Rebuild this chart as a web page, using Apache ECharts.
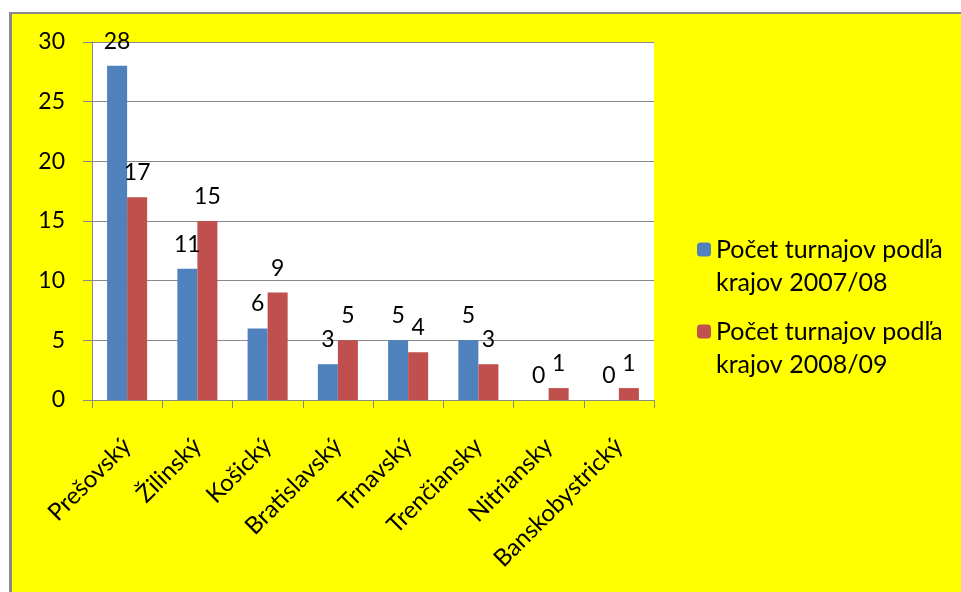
<!DOCTYPE html>
<html>
<head>
<meta charset="utf-8">
<script src="https://cdn.jsdelivr.net/npm/echarts@6/dist/echarts.min.js"></script>
<style>
html,body{margin:0;padding:0;background:#fff;}
#c{width:961px;height:592px;}
</style>
</head>
<body>
<div id="c"></div>
<script>
const categories = ['Prešovský','Žilinský','Košický','Bratislavský','Trnavský','Trenčiansky','Nitriansky','Banskobystrický'];
const seriesNames = ['Počet turnajov podľa\nkrajov 2007/08','Počet turnajov podľa\nkrajov 2008/09'];
const values2007 = [28, 11, 6, 3, 5, 5, 0, 0];
const values2008 = [17, 15, 9, 5, 4, 3, 1, 1];
const yTicks = {min: 0, max: 30, interval: 5};

const FONT = 'Lato';
const chart = echarts.init(document.getElementById('c'), null, {renderer: 'canvas'});
const labelCfg = {show: true, position: 'top', distance: 13, color: '#000', fontFamily: FONT, fontSize: 23};
const legendCommon = {
  orient: 'vertical', left: 697, padding: 0, itemWidth: 14, itemHeight: 14, itemGap: 0, selectedMode: false,
  formatter: function (name) { return '\n' + name; },
  textStyle: {fontFamily: FONT, fontSize: 25, color: '#000', lineHeight: 33}
};
chart.setOption({
  backgroundColor: '#ffffff',
  animation: false,
  textStyle: {fontFamily: FONT},
  graphic: [
    {type: 'rect', z: -10, silent: true, shape: {x: 9, y: 12, width: 960, height: 590}, style: {fill: '#ffff00'}},
    {type: 'rect', z: -9, silent: true, shape: {x: 9, y: 12, width: 3, height: 590}, style: {fill: '#898989'}},
    {type: 'rect', z: -9, silent: true, shape: {x: 9, y: 12, width: 960, height: 2}, style: {fill: '#898989'}}
  ],
  grid: {left: 92, top: 42, width: 562, height: 358, show: true, backgroundColor: '#ffffff', borderWidth: 0, containLabel: false},
  legend: [
    Object.assign({}, legendCommon, {data: [seriesNames[0]], top: 200}),
    Object.assign({}, legendCommon, {data: [seriesNames[1]], top: 282})
  ],
  xAxis: {
    type: 'category', data: categories,
    axisLine: {lineStyle: {color: '#898989', width: 1}},
    axisTick: {show: true, length: 8, lineStyle: {color: '#898989'}},
    axisLabel: {rotate: 45, margin: 42, color: '#000', fontFamily: FONT, fontSize: 24, interval: 0}
  },
  yAxis: {
    type: 'value', min: yTicks.min, max: yTicks.max, interval: yTicks.interval,
    axisLine: {show: true, lineStyle: {color: '#898989', width: 1}},
    axisTick: {show: true, length: 9, lineStyle: {color: '#898989'}},
    axisLabel: {margin: 27, color: '#000', fontFamily: FONT, fontSize: 23},
    splitLine: {show: true, lineStyle: {color: '#898989', width: 1}}
  },
  series: [
    {name: seriesNames[0], type: 'bar', data: values2007, barGap: '0%', barCategoryGap: '43%',
     itemStyle: {color: '#4f81bd'}, label: labelCfg},
    {name: seriesNames[1], type: 'bar', data: values2008, barGap: '0%', barCategoryGap: '43%',
     itemStyle: {color: '#c0504d'}, label: labelCfg}
  ]
});
</script>
</body>
</html>
